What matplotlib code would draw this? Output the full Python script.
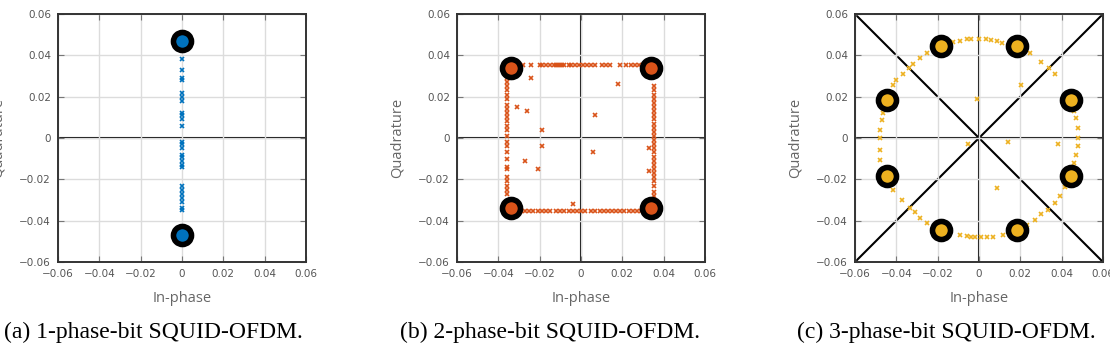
import numpy as np
import matplotlib.pyplot as plt

# ---- data ----
# (a) 1 phase bit
ideal_a_x = [0.0, 0.0]
ideal_a_y = [0.047, -0.047]
rx_a_x = [0.0] * 26
rx_a_y = [0.038, 0.033, 0.029, 0.028, 0.022, 0.020, 0.018, 0.012, 0.011, 0.009,
          0.006, -0.002, -0.003, -0.005, -0.008, -0.009, -0.011, -0.013, -0.014,
          -0.023, -0.025, -0.027, -0.029, -0.031, -0.034, -0.035]

# (b) 2 phase bits
ideal_b_x = [-0.034, 0.034, -0.034, 0.034]
ideal_b_y = [0.034, 0.034, -0.034, -0.034]
top_x = [-0.031, -0.030, -0.028, -0.024, -0.020, -0.019, -0.017, -0.015, -0.013,
         -0.012, -0.011, -0.010, -0.009, -0.008, -0.006, -0.005, -0.003, -0.001,
         0.001, 0.003, 0.005, 0.007, 0.010, 0.012, 0.014, 0.019, 0.022, 0.024,
         0.026, 0.028, 0.030]
bot_x = [-0.031, -0.029, -0.027, -0.025, -0.023, -0.021, -0.019, -0.017, -0.015,
         -0.012, -0.010, -0.008, -0.006, -0.004, -0.002, 0.0, 0.002, 0.005, 0.007,
         0.009, 0.011, 0.013, 0.015, 0.017, 0.019, 0.021, 0.023, 0.025, 0.027,
         0.029, 0.031]
left_y = [0.031, 0.029, 0.027, 0.025, 0.023, 0.021, 0.019, 0.016, 0.014, 0.012,
          0.010, 0.008, 0.006, 0.004, 0.001, -0.002, -0.004, -0.007, -0.010,
          -0.014, -0.015, -0.019, -0.021, -0.023, -0.025, -0.027]
right_y = [0.025, 0.023, 0.021, 0.019, 0.017, 0.015, 0.013, 0.011, 0.009, 0.007,
           0.005, 0.003, 0.001, -0.001, -0.003, -0.005, -0.007, -0.009, -0.011,
           -0.013, -0.015, -0.017, -0.019, -0.021, -0.023, -0.026, -0.028, -0.030]
stray_b_x = [-0.024, -0.031, -0.026, -0.019, -0.019, -0.027, -0.021, 0.007, 0.006,
             0.018, -0.004, 0.033, 0.033]
stray_b_y = [0.029, 0.015, 0.013, 0.004, -0.004, -0.011, -0.015, 0.011, -0.007,
             0.026, -0.032, -0.005, -0.016]
rx_b_x = top_x + bot_x + [-0.036] * len(left_y) + [0.0355] * len(right_y) + stray_b_x
rx_b_y = [0.0355] * len(top_x) + [-0.0355] * len(bot_x) + left_y + right_y + stray_b_y

# (c) 3 phase bits
ideal_c_x = [0.0185, 0.0443, 0.0443, 0.0185, -0.0185, -0.0443, -0.0443, -0.0185]
ideal_c_y = [0.0443, 0.0185, -0.0185, -0.0443, -0.0443, -0.0185, 0.0185, 0.0443]
rx_c_x = [-0.0124, -0.009, -0.006, -0.004, 0.0, 0.0036, 0.006, 0.0085, 0.011,
          0.0246, 0.030, 0.034, 0.037, 0.046, 0.047, 0.048, 0.048, 0.048, 0.047,
          0.046, 0.0415, 0.039, 0.037, 0.0335, 0.030, 0.027, 0.023, 0.0117,
          0.007, 0.004, 0.001, -0.002, -0.004, -0.006, -0.009,
          -0.0415, -0.0375, -0.0334, -0.031, -0.0286, -0.025,
          -0.048, -0.048, -0.048, -0.048, -0.047, -0.0463, -0.045,
          -0.0415, -0.040, -0.0366, -0.034, -0.0318, -0.0286, -0.0254, -0.022,
          0.0205, 0.038, 0.014, 0.0085, -0.001, -0.0055]
rx_c_y = [0.0466, 0.047, 0.048, 0.048, 0.048, 0.048, 0.0475, 0.047, 0.046,
          0.041, 0.037, 0.034, 0.031, 0.013, 0.0096, 0.0047, 0.0, -0.004, -0.008,
          -0.012, -0.0235, -0.028, -0.0315, -0.0347, -0.037, -0.0395, -0.042,
          -0.0467, -0.048, -0.048, -0.048, -0.048, -0.048, -0.0476, -0.047,
          -0.025, -0.030, -0.034, -0.036, -0.0387, -0.041,
          -0.0105, -0.0057, 0.0, 0.004, 0.0088, 0.012, 0.015,
          0.0257, 0.028, 0.031, 0.0338, 0.0358, 0.0385, 0.041, 0.043,
          0.0257, -0.003, -0.002, -0.024, 0.019, -0.003]

colors = ['#0072BD', '#D95319', '#EDB120']
captions = ['(a) 1-phase-bit SQUID-OFDM.', '(b) 2-phase-bit SQUID-OFDM.',
            '(c) 3-phase-bit SQUID-OFDM.']
ticks = [-0.06, -0.04, -0.02, 0, 0.02, 0.04, 0.06]
tick_labels = ['\u22120.06', '\u22120.04', '\u22120.02', '0', '0.02', '0.04', '0.06']

fig = plt.figure(figsize=(11.1, 3.5), dpi=100)
W, H = 1110, 350
lefts = [58, 457, 855]
cap_x = [153, 550, 946]
data = [(rx_a_x, rx_a_y, ideal_a_x, ideal_a_y),
        (rx_b_x, rx_b_y, ideal_b_x, ideal_b_y),
        (rx_c_x, rx_c_y, ideal_c_x, ideal_c_y)]

for i in range(3):
    ax = fig.add_axes([lefts[i] / W, 1 - 262 / H, 248 / W, 248 / H])
    rx, ry, ix, iy = data[i]
    ax.set_xlim(-0.06, 0.06)
    ax.set_ylim(-0.06, 0.06)
    ax.grid(True, color='#dcdcdc', linewidth=1.0, zorder=0)
    ax.axhline(0, color='black', linewidth=1.5, zorder=1)
    if i > 0:
        ax.axvline(0, color='black', linewidth=1.5, zorder=1)
    if i == 2:
        ax.plot([-0.06, 0.06], [-0.06, 0.06], color='black', linewidth=1.5, zorder=1)
        ax.plot([-0.06, 0.06], [0.06, -0.06], color='black', linewidth=1.5, zorder=1)
    ax.plot(rx, ry, 'x', color=colors[i], markersize=3.5, markeredgewidth=1.2,
            zorder=2, clip_on=False)
    ax.plot(ix, iy, 'o', markerfacecolor=colors[i], markeredgecolor='black',
            markersize=13, markeredgewidth=4, zorder=3, clip_on=False)
    ax.set_xticks(ticks)
    ax.set_yticks(ticks)
    ax.set_xticklabels(tick_labels)
    ax.set_yticklabels(tick_labels)
    ax.tick_params(direction='in', length=4, width=0.8, color='#777777',
                   labelcolor='#555555', labelsize=7.5, top=True, right=True, pad=5)
    for s in ax.spines.values():
        s.set_color('#333333')
        s.set_linewidth(1.4)
    ax.set_xlabel('In-phase', family='Open Sans', fontsize=10.5, color='#666666', labelpad=9)
    ax.set_ylabel('Quadrature', family='Open Sans', fontsize=10.5, color='#666666', labelpad=10)
    fig.text(cap_x[i] / W, 1 - 332 / H, captions[i], family='Liberation Serif',
             fontsize=17, ha='center', va='center')

fig.savefig('out.png', dpi=100)
